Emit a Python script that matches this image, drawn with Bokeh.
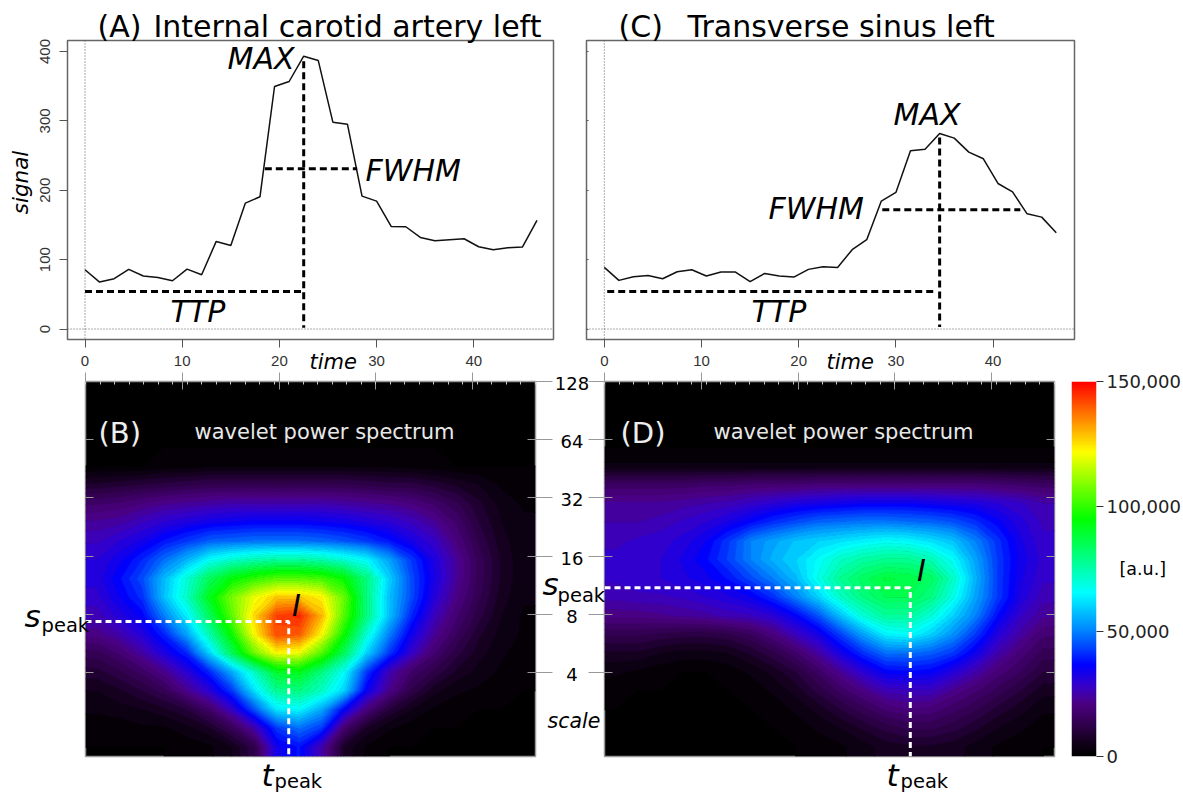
import math
import numpy as np
from bokeh.core.properties import value
from bokeh.embed import file_html
from bokeh.resources import INLINE
from bokeh.plotting import figure
from bokeh.layouts import row, column
from bokeh.models import (Span, FixedTicker, LogAxis, LinearColorMapper, Range1d, NumeralTickFormatter)

# ---------------- data ----------------
time_s = [i * 1.5 for i in range(32)]
signal_ica = [85.5, 67.7, 72.5, 86, 76.4, 74.4, 69.6, 86.4, 78.3, 126.3, 120.5, 181.5, 190.6, 349.6, 356.8, 393.3,
              387, 298.2, 295.3, 191.6, 184.4, 147.9, 147.4, 132, 127.3, 128.7, 130.1, 118.6, 114.3, 117.2, 118.1, 156.5]
signal_ts = [88.8, 70.1, 75.4, 77.3, 72.5, 82.6, 85.5, 76.4, 82.1, 82.1, 68.2, 80.2, 76.4, 74.9, 86, 89.8,
             88.8, 114.3, 128.7, 184.4, 196.9, 256.9, 259.3, 281.9, 275.2, 255, 245.4, 209.8, 197.8, 166.1, 161.3, 138.8]

ica_ttp = ([0, 22.5], [54, 54]);  ica_max = ([22.5, 22.5], [386, 2]);  ica_fwhm = ([18.5, 28], [231, 231])
ts_ttp = ([0.3, 34], [54, 54]);   ts_max = ([34.5, 34.5], [276, 3]);   ts_fwhm = ([28.6, 42.8], [172, 172])
ica_peak = (21.0, 7.34)
ts_peak = (31.6, 10.97)

x_ticks = [0, 10, 20, 30, 40]
y_ticks = [0, 100, 200, 300, 400]
scale_ticks = [4, 8, 16, 32, 64, 128]
power_ticks = [0, 50000, 100000, 150000]

# wavelet power in thousands, rows top (scale 128) to bottom
power_b = [
 [0]*20, [0]*20, [0]*20, [0]*20,
 [0,0,0,1,1,2,2,2,2,2,2,2,2,2,1,1,0,0,0,0],
 [8,9,10,11,12,13,13,13,13,13,13,13,12,11,11,9,7,5,2,1],
 [17,18,20,22,23,24,25,25,25,25,25,24,23,22,20,17,13,8,4,2],
 [23,24,27,30,32,34,35,36,36,36,35,34,32,30,27,23,17,10,5,3],
 [27,30,33,38,42,46,47,48,48,48,47,45,42,38,33,28,20,12,6,3],
 [30,34,40,48,56,66,71,74,76,76,74,70,65,54,42,32,23,14,7,3],
 [31,37,44,57,70,84,94,100,104,104,102,95,80,60,44,33,23,14,7,3],
 [29,35,41,58,72,92,108,120,128,128,123,106,80,58,44,31,21,13,6,3],
 [26,31,36,50,64,84,105,126,143,146,130,104,80,58,40,27,18,11,5,2],
 [21,25,31,40,54,74,96,122,142,140,122,96,70,50,34,23,15,8,4,2],
 [14,18,24,32,40,60,84,107,122,120,104,84,60,42,28,18,11,6,3,1],
 [9,12,16,22,30,40,55,72,90,92,80,66,42,26,17,12,7,4,2,1],
 [5,7,10,14,22,30,42,62,78,80,72,60,35,22,12,6,3,2,1,0],
 [3,4,5,7,10,17,28,45,63,65,55,36,20,10,5,2,1,0,0,0],
 [1,1,2,2,4,7,14,25,42,48,42,18,7,3,1,0,0,0,0,0],
 [0,0,0,0,1,2,5,12,34,38,25,7,2,0,0,0,0,0,0,0],
]
power_d = [
 [0]*20, [0]*20, [0]*20, [0]*20,
 [3,3,3,3,3,3,3,3,3,3,3,3,3,3,3,3,3,3,3,3],
 [16,16,16,16,17,17,18,18,18,19,19,19,19,19,19,19,19,18,17,16],
 [23,23,23,24,25,26,28,30,32,33,34,35,35,35,34,33,32,30,28,25],
 [25,25,26,28,30,33,37,41,44,47,48,49,49,48,47,45,41,36,31,27],
 [27,28,29,31,35,42,50,54,58,60,62,64,66,65,62,58,50,41,33,28],
 [28,29,30,33,37,43,50,56,60,66,72,76,78,78,74,66,54,42,34,29],
 [28,29,30,32,34,38,44,50,57,68,78,84,88,87,84,72,56,42,33,28],
 [26,27,27,28,30,32,35,41,50,60,72,80,85,85,80,68,54,42,32,26],
 [21,21,22,23,24,26,27,30,36,45,58,70,77,77,70,60,50,37,28,23],
 [13,13,12,11,11,12,15,20,27,33,43,54,64,66,60,52,42,31,24,18],
 [7,7,5,4,4,5,8,12,17,24,33,41,48,48,46,42,34,25,19,14],
 [3,2,1,0,0,1,3,6,10,16,23,30,36,37,36,31,25,19,15,10],
 [1,0,0,0,0,0,1,3,6,11,16,21,26,27,27,22,18,14,10,6],
 [0,0,0,0,0,0,0,1,3,6,10,14,18,20,19,16,13,9,6,3],
 [0,0,0,0,0,0,0,0,1,3,5,8,11,13,13,11,8,5,3,1],
 [0,0,0,0,0,0,0,0,0,1,2,4,6,7,7,6,4,2,1,0],
]

# ---------------- colours ----------------
stops_v = [0, 6000, 11600, 21000, 28000, 36500, 50000, 65500, 80000, 95000, 109000, 122000, 136000, 150000]
stops_c = [(0,0,0), (20,0,30), (45,0,70), (75,0,130), (55,0,200), (0,0,255), (0,130,255), (0,255,255),
           (0,255,128), (0,255,0), (128,255,0), (255,255,0), (255,128,0), (255,0,0)]


def colour(v):
    return "#%02x%02x%02x" % tuple(int(round(np.interp(v, stops_v, [c[k] for c in stops_c]))) for k in range(3))


vv = np.linspace(0, 150000, 256)
palette = [colour(v) for v in vv]
mapper = LinearColorMapper(palette=palette, low=0, high=150000)
levels = np.arange(0, 152500, 2500)
fill_cols = [colour((a + b) / 2) for a, b in zip(levels[:-1], levels[1:])]
line_cols = [colour(a) for a in levels]

DJ = "DejaVu Sans"
LS = "Liberation Sans"


def no_labels(ax, ticks):
    ax.major_label_overrides = {t: "" for t in ticks}


def top_panel(left, frame_l, frame_r, right, x0_px, sig, ttp, mx, fw, show_labels):
    PX = 9.72
    xr0, xr1 = (frame_l - x0_px) / PX, (frame_r - x0_px) / PX
    yr0, yr1 = -15.1, 415.9
    p = figure(width=right - left, height=372, output_backend="svg", toolbar_location=None,
               x_range=Range1d(xr0, xr1), y_range=Range1d(yr0, yr1),
               min_border_left=frame_l - left, min_border_right=right - frame_r,
               min_border_top=40, min_border_bottom=33,
               background_fill_color=None, border_fill_color=None)
    p.grid.visible = False
    p.outline_line_color = "#666666"
    p.outline_line_width = 1.5
    ax = p.xaxis[0]
    ax.ticker = FixedTicker(ticks=x_ticks)
    ax.axis_line_color = None
    ax.major_tick_line_color = "#555555"
    ax.major_tick_out = 8
    ax.major_tick_in = 0
    ax.minor_tick_line_color = None
    ax.major_label_standoff = 8
    ax.major_label_text_font = LS
    ax.major_label_text_font_size = "15px"
    ax.major_label_text_color = "#333333"
    ay = p.yaxis[0]
    ay.ticker = FixedTicker(ticks=y_ticks)
    ay.axis_line_color = None
    ay.major_tick_line_color = "#555555"
    ay.minor_tick_line_color = None
    if show_labels:
        ay.major_tick_out = 8
        ay.major_tick_in = 0
        ay.major_label_orientation = "vertical"
        ay.major_label_standoff = 9
        ay.major_label_text_font = LS
        ay.major_label_text_font_size = "15px"
        ay.major_label_text_color = "#333333"
    else:
        ay.major_tick_out = 0
        ay.major_tick_in = 2
        no_labels(ay, y_ticks)
    for dim in ("height", "width"):
        p.add_layout(Span(location=0, dimension=dim, line_color="#555555", line_width=1, line_dash="1 2"))
    p.line(time_s, sig, line_color="#111111", line_width=1.5)
    for seg in (ttp, mx, fw):
        p.line(seg[0], seg[1], line_color="black", line_width=3, line_dash="7 4")
    return p


def heat_panel(left, frame_l, frame_r, right, rows, peak, right_labels):
    xr0, xr1 = 0, 46.5
    yr1 = 128
    yr0 = 128 / 2 ** (375 / 58.2)
    p = figure(width=right - left, height=422, output_backend="svg", toolbar_location=None,
               x_range=Range1d(xr0, xr1), y_range=Range1d(yr0, yr1), y_axis_type="log",
               min_border_left=frame_l - left, min_border_right=right - frame_r,
               min_border_top=9, min_border_bottom=38,
               background_fill_color="black", border_fill_color=None, x_axis_location="above")
    p.grid.visible = False
    p.outline_line_color = "#999999"
    p.outline_line_width = 1.5
    arr = np.array(rows, dtype=float) * 1000
    nr, nc = arr.shape
    # grid nodes: cell centres, plus the frame's edges carrying the edge cells' values
    xs = np.r_[xr0, xr0 + (np.arange(nc) + 0.5) / nc * (xr1 - xr0), xr1]
    oct_total = math.log2(yr1 / yr0)
    ys = yr1 / 2 ** (np.r_[0, (np.arange(nr) + 0.5) / nr, 1] * oct_total)
    zz = np.pad(arr, 1, mode="edge")
    p.contour(xs, ys[::-1], zz[::-1], levels=levels, fill_color=fill_cols, line_color=line_cols, line_width=1)
    ax = p.xaxis[0]
    ax.ticker = FixedTicker(ticks=x_ticks, minor_ticks=time_s)
    ax.axis_line_color = None
    ax.major_tick_line_color = "#999999"
    ax.major_tick_out = 9
    ax.major_tick_in = 8
    ax.minor_tick_line_color = "#cccccc"
    ax.minor_tick_out = 0
    ax.minor_tick_in = 3
    no_labels(ax, x_ticks)
    ay = p.yaxis[0]
    ay.ticker = FixedTicker(ticks=scale_ticks, minor_ticks=[])
    ay.axis_line_color = None
    ay.major_tick_line_color = "#999999"
    ay.major_tick_in = 8
    ay.major_tick_out = 16 if right_labels is False else 0
    ay.minor_tick_line_color = None
    no_labels(ay, scale_ticks)
    ry = LogAxis(ticker=FixedTicker(ticks=scale_ticks, minor_ticks=[]), axis_line_color=None,
                 major_tick_line_color="#999999", major_tick_in=8,
                 major_tick_out=17 if right_labels else 0, minor_tick_line_color=None)
    no_labels(ry, scale_ticks)
    p.add_layout(ry, "right")
    p.line([xr0, peak[0], peak[0]], [peak[1], peak[1], yr0], line_color="white", line_width=3, line_dash="6 4")
    return p


pa = top_panel(0, 67, 553, 575, 84.5, signal_ica, ica_ttp, ica_max, ica_fwhm, True)
pc = top_panel(575, 586, 1074, 1100, 603.8, signal_ts, ts_ttp, ts_max, ts_fwhm, False)
pb = heat_panel(0, 85, 535, 585, power_b, ica_peak, True)
pd = heat_panel(585, 604, 1054, 1060, power_d, ts_peak, False)

# colour bar
cb = figure(width=123, height=422, output_backend="svg", toolbar_location=None,
            x_range=Range1d(0, 1), y_range=Range1d(0, 150000),
            min_border_left=11, min_border_right=83, min_border_top=9, min_border_bottom=38,
            y_axis_location="right", background_fill_color=None, border_fill_color=None)
cb.grid.visible = False
cb.xaxis.visible = False
cb.outline_line_color = None
cb.image(image=[vv.reshape(-1, 1)], x=0, y=0, dw=1, dh=150000, color_mapper=mapper)
ac = cb.yaxis[0]
ac.ticker = FixedTicker(ticks=power_ticks)
ac.formatter = NumeralTickFormatter(format="0,0")
ac.axis_line_color = None
ac.major_tick_line_color = "#333333"
ac.major_tick_out = 7
ac.major_tick_in = 0
ac.minor_tick_line_color = None
ac.major_label_standoff = 3
ac.major_label_text_font = DJ
ac.major_label_text_font_size = "18px"
ac.major_label_text_color = "#222222"

# a clear sheet over the whole page for the captions, in page pixels
ov = figure(width=1183, height=794, output_backend="svg", toolbar_location=None,
            x_range=Range1d(0, 1183), y_range=Range1d(794, 0), x_axis_location=None, y_axis_location=None,
            min_border=0, background_fill_color=None, border_fill_color=None)
ov.grid.visible = False
ov.outline_line_color = None
ov.margin = (-794, 0, 0, 0)


def cap(px, py, text, size, color="black", italic=False, font=DJ, align="left", baseline="alphabetic", angle=0):
    if baseline == "alphabetic":
        py = py - 0.37 * size
    ov.text([px], [py], text=[text], text_font=value(font), text_font_size=value(f"{size}px"),
            text_font_style="italic" if italic else "normal", text_color=color,
            text_align=align, text_baseline=baseline, angle=angle)


cap(97, 37, "(A)", 30)
cap(153, 37, "Internal carotid artery left", 30)
cap(227, 69, "MAX", 30, italic=True)
cap(365, 181, "FWHM", 30, italic=True)
cap(170, 322, "TTP", 30, italic=True)
cap(309, 369, "time", 21, italic=True)
cap(20, 182, "signal", 21.5, italic=True, align="center", baseline="middle", angle=math.pi / 2)

cap(618, 37, "(C)", 30)
cap(687, 37, "Transverse sinus left", 30)
cap(893, 125, "MAX", 30, italic=True)
cap(768, 219, "FWHM", 30, italic=True)
cap(751, 322, "TTP", 30, italic=True)
cap(826, 369, "time", 21, italic=True)

cap(98, 443, "(B)", 29, color="#eeeeee")
cap(194, 439, "wavelet power spectrum", 21, color="#e8e8e8")
cap(296, 616, "I", 30, italic=True, align="center")
cap(24, 627, "s", 31, italic=True)
cap(41, 632, "peak", 19.5)
cap(261, 785.5, "t", 31, italic=True)
cap(274, 788, "peak", 19.5)
for tk in scale_ticks:
    cap(571.5, 381 + math.log2(128 / tk) * 58.2 + 2, str(tk), 18, align="center", baseline="middle")
cap(547, 728, "scale", 20.5, italic=True)

cap(620, 443, "(D)", 29, color="#eeeeee")
cap(713, 439, "wavelet power spectrum", 21, color="#e8e8e8")
cap(921, 581, "I", 30, italic=True, align="center")
cap(542, 595, "s", 31, italic=True)
cap(557, 602, "peak", 19.5)
cap(886, 785.5, "t", 31, italic=True)
cap(900, 788, "peak", 19.5)
cap(1119, 575, "[a.u.]", 17.5)

content = column(row(pa, pc, spacing=0), row(pb, pd, cb, spacing=0), spacing=0)
layout = column(content, ov, spacing=0)
open("out.html", "w").write(file_html(layout, INLINE))
